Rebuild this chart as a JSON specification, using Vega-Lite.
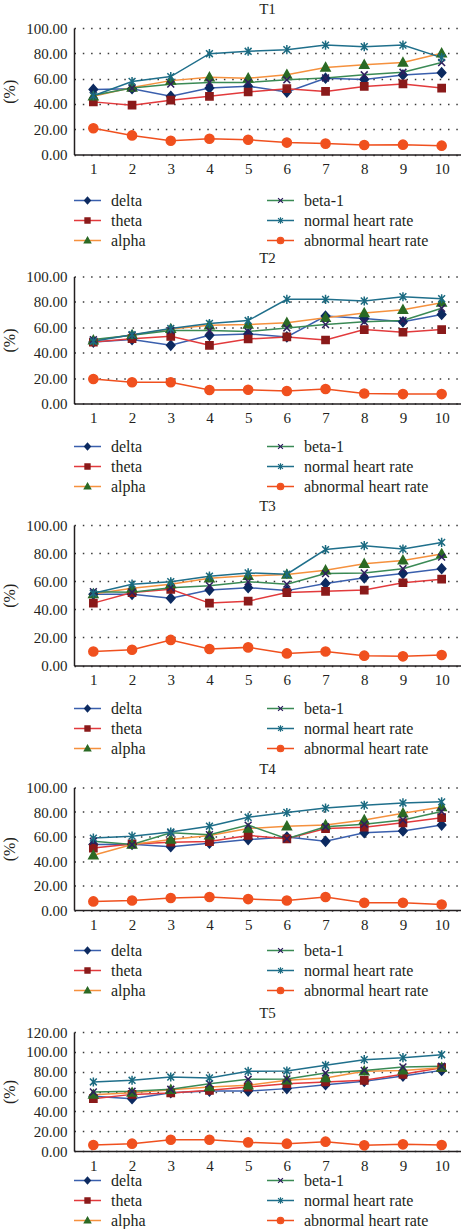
{
  "$schema": "https://vega.github.io/schema/vega-lite/v6.json",
  "background": "white",
  "padding": {"left": 1, "top": 2, "right": 0, "bottom": 0},
  "datasets": {
    "T1": [
      {"x": 1, "delta": 51.4, "theta": 41.6, "alpha": 46.0, "beta-1": 46.8, "normal heart rate": 46.5, "abnormal heart rate": 20.8},
      {"x": 2, "delta": 52.0, "theta": 39.0, "alpha": 53.0, "beta-1": 52.5, "normal heart rate": 57.7, "abnormal heart rate": 15.1},
      {"x": 3, "delta": 46.0, "theta": 42.9, "alpha": 58.4, "beta-1": 55.6, "normal heart rate": 61.6, "abnormal heart rate": 10.9},
      {"x": 4, "delta": 52.5, "theta": 46.0, "alpha": 61.0, "beta-1": 57.0, "normal heart rate": 79.7, "abnormal heart rate": 12.5},
      {"x": 5, "delta": 54.0, "theta": 49.4, "alpha": 60.3, "beta-1": 57.0, "normal heart rate": 81.6, "abnormal heart rate": 11.7},
      {"x": 6, "delta": 49.4, "theta": 52.0, "alpha": 63.1, "beta-1": 59.0, "normal heart rate": 82.9, "abnormal heart rate": 9.4},
      {"x": 7, "delta": 60.3, "theta": 49.9, "alpha": 68.8, "beta-1": 60.5, "normal heart rate": 86.5, "abnormal heart rate": 8.6},
      {"x": 8, "delta": 59.2, "theta": 53.8, "alpha": 70.9, "beta-1": 63.0, "normal heart rate": 85.2, "abnormal heart rate": 7.5},
      {"x": 9, "delta": 62.9, "theta": 55.8, "alpha": 72.7, "beta-1": 65.0, "normal heart rate": 86.5, "abnormal heart rate": 7.8},
      {"x": 10, "delta": 64.7, "theta": 52.5, "alpha": 80.0, "beta-1": 72.7, "normal heart rate": 76.6, "abnormal heart rate": 7.0}
    ],
    "T2": [
      {"x": 1, "delta": 48.4, "theta": 48.4, "alpha": 49.7, "beta-1": 50.3, "normal heart rate": 49.0, "abnormal heart rate": 19.3},
      {"x": 2, "delta": 50.3, "theta": 51.0, "alpha": 54.0, "beta-1": 53.7, "normal heart rate": 54.2, "abnormal heart rate": 16.7},
      {"x": 3, "delta": 45.8, "theta": 52.9, "alpha": 58.7, "beta-1": 57.4, "normal heart rate": 59.0, "abnormal heart rate": 16.7},
      {"x": 4, "delta": 53.7, "theta": 45.8, "alpha": 61.6, "beta-1": 57.4, "normal heart rate": 63.0, "abnormal heart rate": 10.6},
      {"x": 5, "delta": 54.8, "theta": 50.8, "alpha": 62.2, "beta-1": 56.6, "normal heart rate": 65.3, "abnormal heart rate": 10.8},
      {"x": 6, "delta": 52.4, "theta": 52.4, "alpha": 63.5, "beta-1": 59.5, "normal heart rate": 82.0, "abnormal heart rate": 9.8},
      {"x": 7, "delta": 68.8, "theta": 50.0, "alpha": 67.5, "beta-1": 62.2, "normal heart rate": 82.0, "abnormal heart rate": 11.4},
      {"x": 8, "delta": 66.9, "theta": 58.2, "alpha": 71.2, "beta-1": 64.3, "normal heart rate": 80.7, "abnormal heart rate": 7.9},
      {"x": 9, "delta": 64.3, "theta": 56.1, "alpha": 73.8, "beta-1": 65.3, "normal heart rate": 84.1, "abnormal heart rate": 7.4},
      {"x": 10, "delta": 70.1, "theta": 58.2, "alpha": 79.4, "beta-1": 75.0, "normal heart rate": 82.5, "abnormal heart rate": 7.4}
    ],
    "T3": [
      {"x": 1, "delta": 50.7, "theta": 44.4, "alpha": 50.9, "beta-1": 52.5, "normal heart rate": 51.4, "abnormal heart rate": 10.0},
      {"x": 2, "delta": 50.7, "theta": 51.9, "alpha": 54.9, "beta-1": 52.1, "normal heart rate": 57.9, "abnormal heart rate": 11.2},
      {"x": 3, "delta": 47.9, "theta": 54.2, "alpha": 57.9, "beta-1": 55.4, "normal heart rate": 59.6, "abnormal heart rate": 18.2},
      {"x": 4, "delta": 53.7, "theta": 44.4, "alpha": 62.1, "beta-1": 56.8, "normal heart rate": 63.6, "abnormal heart rate": 11.7},
      {"x": 5, "delta": 55.4, "theta": 45.8, "alpha": 63.8, "beta-1": 59.6, "normal heart rate": 65.9, "abnormal heart rate": 12.9},
      {"x": 6, "delta": 53.3, "theta": 51.9, "alpha": 64.7, "beta-1": 57.9, "normal heart rate": 65.0, "abnormal heart rate": 8.6},
      {"x": 7, "delta": 58.4, "theta": 52.8, "alpha": 67.8, "beta-1": 65.4, "normal heart rate": 82.5, "abnormal heart rate": 10.0},
      {"x": 8, "delta": 62.4, "theta": 53.7, "alpha": 72.4, "beta-1": 65.9, "normal heart rate": 85.3, "abnormal heart rate": 7.0},
      {"x": 9, "delta": 65.4, "theta": 58.9, "alpha": 74.8, "beta-1": 68.9, "normal heart rate": 82.9, "abnormal heart rate": 6.5},
      {"x": 10, "delta": 68.9, "theta": 61.4, "alpha": 79.4, "beta-1": 77.1, "normal heart rate": 87.6, "abnormal heart rate": 7.5}
    ],
    "T4": [
      {"x": 1, "delta": 53.4, "theta": 50.6, "alpha": 44.7, "beta-1": 56.1, "normal heart rate": 58.7, "abnormal heart rate": 7.0},
      {"x": 2, "delta": 53.6, "theta": 53.9, "alpha": 53.4, "beta-1": 53.4, "normal heart rate": 60.3, "abnormal heart rate": 7.8},
      {"x": 3, "delta": 51.7, "theta": 55.3, "alpha": 57.5, "beta-1": 63.1, "normal heart rate": 63.7, "abnormal heart rate": 9.8},
      {"x": 4, "delta": 54.5, "theta": 55.9, "alpha": 60.9, "beta-1": 61.5, "normal heart rate": 68.4, "abnormal heart rate": 10.6},
      {"x": 5, "delta": 57.5, "theta": 60.9, "alpha": 66.5, "beta-1": 69.3, "normal heart rate": 75.7, "abnormal heart rate": 8.9},
      {"x": 6, "delta": 59.5, "theta": 58.1, "alpha": 68.4, "beta-1": 58.1, "normal heart rate": 79.6, "abnormal heart rate": 7.8},
      {"x": 7, "delta": 56.1, "theta": 66.5, "alpha": 69.3, "beta-1": 67.9, "normal heart rate": 83.2, "abnormal heart rate": 10.6},
      {"x": 8, "delta": 63.1, "theta": 67.6, "alpha": 73.5, "beta-1": 70.1, "normal heart rate": 85.5, "abnormal heart rate": 5.9},
      {"x": 9, "delta": 64.5, "theta": 71.2, "alpha": 79.0, "beta-1": 73.5, "normal heart rate": 87.4, "abnormal heart rate": 5.9},
      {"x": 10, "delta": 69.3, "theta": 75.4, "alpha": 84.1, "beta-1": 80.4, "normal heart rate": 88.3, "abnormal heart rate": 4.5}
    ],
    "T5": [
      {"x": 1, "delta": 55.1, "theta": 52.8, "alpha": 56.8, "beta-1": 59.5, "normal heart rate": 69.6, "abnormal heart rate": 6.1},
      {"x": 2, "delta": 52.8, "theta": 57.1, "alpha": 58.8, "beta-1": 60.2, "normal heart rate": 71.3, "abnormal heart rate": 7.4},
      {"x": 3, "delta": 58.8, "theta": 58.5, "alpha": 61.8, "beta-1": 62.2, "normal heart rate": 74.6, "abnormal heart rate": 11.4},
      {"x": 4, "delta": 60.5, "theta": 61.2, "alpha": 64.5, "beta-1": 67.9, "normal heart rate": 73.6, "abnormal heart rate": 11.4},
      {"x": 5, "delta": 60.5, "theta": 64.5, "alpha": 66.2, "beta-1": 72.3, "normal heart rate": 80.3, "abnormal heart rate": 8.7},
      {"x": 6, "delta": 62.9, "theta": 67.9, "alpha": 71.3, "beta-1": 72.6, "normal heart rate": 80.7, "abnormal heart rate": 7.4},
      {"x": 7, "delta": 66.9, "theta": 69.6, "alpha": 73.6, "beta-1": 78.7, "normal heart rate": 86.4, "abnormal heart rate": 9.4},
      {"x": 8, "delta": 70.3, "theta": 71.3, "alpha": 80.3, "beta-1": 81.3, "normal heart rate": 92.1, "abnormal heart rate": 5.7},
      {"x": 9, "delta": 75.6, "theta": 77.3, "alpha": 81.3, "beta-1": 84.7, "normal heart rate": 94.1, "abnormal heart rate": 6.7},
      {"x": 10, "delta": 81.3, "theta": 84.0, "alpha": 84.0, "beta-1": 85.4, "normal heart rate": 97.1, "abnormal heart rate": 6.1}
    ]
  },
  "bounds": "flush",
  "spacing": 121.5,
  "resolve": {
    "scale": {"stroke": "independent", "shape": "independent", "fill": "independent", "color": "independent"},
    "legend": {"stroke": "independent", "shape": "independent", "fill": "independent", "color": "independent"}
  },
  "vconcat": [
    {
      "width": 387, "height": 126.5,
      "title": "T1",
      "data": {"name": "T1"},
      "transform": [{"fold": ["delta", "theta", "alpha", "beta-1", "normal heart rate", "abnormal heart rate"], "as": ["series", "value"]}],
      "encoding": {
        "x": {"field": "x", "type": "ordinal", "axis": {"title": null}},
        "y": {"field": "value", "type": "quantitative", "scale": {"domain": [0, 100], "nice": false}, "axis": {"title": "(%)", "values": [0, 20, 40, 60, 80, 100]}}
      },
      "layer": [
        {"mark": {"type": "line", "strokeWidth": 1.5}, "encoding": {"stroke": {"field": "series", "type": "nominal", "scale": {"domain": ["delta", "theta", "alpha", "beta-1", "normal heart rate", "abnormal heart rate"], "range": ["#3a5fad", "#e23a3c", "#f5913e", "#3a8a55", "#1f6f8b", "#f0501e"]}, "legend": {"title": null, "legendY": 162.5, "symbolType": "stroke"}}}},
        {"mark": {"type": "point", "filled": false, "size": 1444, "strokeWidth": 1.5, "opacity": 1}, "encoding": {
          "shape": {"field": "series", "type": "nominal", "scale": {"domain": ["abnormal heart rate", "normal heart rate", "beta-1", "alpha", "theta", "delta"], "range": ["M0.24,0A0.24,0.24 0 1,1 -0.24,0A0.24,0.24 0 1,1 0.24,0Z", "M-0.18,-0.18L0.18,0.18M-0.18,0.18L0.18,-0.18M0,-0.24L0,0.24", "M-0.18,-0.18L0.18,0.18M-0.18,0.18L0.18,-0.18", "M0,-0.25L0.24,0.18L-0.24,0.18Z", "M-0.19,-0.19L0.19,-0.19L0.19,0.19L-0.19,0.19Z", "M0,-0.25L0.22,0L0,0.25L-0.22,0Z"]}, "legend": {"title": null, "legendY": 162.5, "labelOpacity": 0, "values": ["delta", "theta", "alpha", "beta-1", "normal heart rate", "abnormal heart rate"], "symbolFillColor": "transparent", "symbolStrokeWidth": 1.2}},
          "fill": {"field": "series", "type": "nominal", "scale": {"domain": ["abnormal heart rate", "normal heart rate", "beta-1", "alpha", "theta", "delta"], "range": ["#f0501e", "#1a6a80", "#2e1f5e", "#2b6a25", "#8a1a1a", "#0c2a60"]}, "legend": {"title": null, "legendY": 162.5, "labelOpacity": 0, "values": ["delta", "theta", "alpha", "beta-1", "normal heart rate", "abnormal heart rate"], "symbolFillColor": "transparent", "symbolStrokeWidth": 1.2}},
          "color": {"field": "series", "type": "nominal", "scale": {"domain": ["abnormal heart rate", "normal heart rate", "beta-1", "alpha", "theta", "delta"], "range": ["#f0501e", "#1a6a80", "#2e1f5e", "#2b6a25", "#8a1a1a", "#0c2a60"]}, "legend": {"title": null, "legendY": 162.5, "labelOpacity": 0, "values": ["delta", "theta", "alpha", "beta-1", "normal heart rate", "abnormal heart rate"], "symbolFillColor": "transparent", "symbolStrokeWidth": 1.2}}
        }}
      ]
    },
    {
      "width": 387, "height": 127,
      "title": "T2",
      "data": {"name": "T2"},
      "transform": [{"fold": ["delta", "theta", "alpha", "beta-1", "normal heart rate", "abnormal heart rate"], "as": ["series", "value"]}],
      "encoding": {
        "x": {"field": "x", "type": "ordinal", "axis": {"title": null}},
        "y": {"field": "value", "type": "quantitative", "scale": {"domain": [0, 100], "nice": false}, "axis": {"title": "(%)", "values": [0, 20, 40, 60, 80, 100]}}
      },
      "layer": [
        {"mark": {"type": "line", "strokeWidth": 1.5}, "encoding": {"stroke": {"field": "series", "type": "nominal", "scale": {"domain": ["delta", "theta", "alpha", "beta-1", "normal heart rate", "abnormal heart rate"], "range": ["#3a5fad", "#e23a3c", "#f5913e", "#3a8a55", "#1f6f8b", "#f0501e"]}, "legend": {"title": null, "legendY": 160, "symbolType": "stroke"}}}},
        {"mark": {"type": "point", "filled": false, "size": 1444, "strokeWidth": 1.5, "opacity": 1}, "encoding": {
          "shape": {"field": "series", "type": "nominal", "scale": {"domain": ["abnormal heart rate", "normal heart rate", "beta-1", "alpha", "theta", "delta"], "range": ["M0.24,0A0.24,0.24 0 1,1 -0.24,0A0.24,0.24 0 1,1 0.24,0Z", "M-0.18,-0.18L0.18,0.18M-0.18,0.18L0.18,-0.18M0,-0.24L0,0.24", "M-0.18,-0.18L0.18,0.18M-0.18,0.18L0.18,-0.18", "M0,-0.25L0.24,0.18L-0.24,0.18Z", "M-0.19,-0.19L0.19,-0.19L0.19,0.19L-0.19,0.19Z", "M0,-0.25L0.22,0L0,0.25L-0.22,0Z"]}, "legend": {"title": null, "legendY": 160, "labelOpacity": 0, "values": ["delta", "theta", "alpha", "beta-1", "normal heart rate", "abnormal heart rate"], "symbolFillColor": "transparent", "symbolStrokeWidth": 1.2}},
          "fill": {"field": "series", "type": "nominal", "scale": {"domain": ["abnormal heart rate", "normal heart rate", "beta-1", "alpha", "theta", "delta"], "range": ["#f0501e", "#1a6a80", "#2e1f5e", "#2b6a25", "#8a1a1a", "#0c2a60"]}, "legend": {"title": null, "legendY": 160, "labelOpacity": 0, "values": ["delta", "theta", "alpha", "beta-1", "normal heart rate", "abnormal heart rate"], "symbolFillColor": "transparent", "symbolStrokeWidth": 1.2}},
          "color": {"field": "series", "type": "nominal", "scale": {"domain": ["abnormal heart rate", "normal heart rate", "beta-1", "alpha", "theta", "delta"], "range": ["#f0501e", "#1a6a80", "#2e1f5e", "#2b6a25", "#8a1a1a", "#0c2a60"]}, "legend": {"title": null, "legendY": 160, "labelOpacity": 0, "values": ["delta", "theta", "alpha", "beta-1", "normal heart rate", "abnormal heart rate"], "symbolFillColor": "transparent", "symbolStrokeWidth": 1.2}}
        }}
      ]
    },
    {
      "width": 387, "height": 140.5,
      "title": "T3",
      "data": {"name": "T3"},
      "transform": [{"fold": ["delta", "theta", "alpha", "beta-1", "normal heart rate", "abnormal heart rate"], "as": ["series", "value"]}],
      "encoding": {
        "x": {"field": "x", "type": "ordinal", "axis": {"title": null}},
        "y": {"field": "value", "type": "quantitative", "scale": {"domain": [0, 100], "nice": false}, "axis": {"title": "(%)", "values": [0, 20, 40, 60, 80, 100]}}
      },
      "layer": [
        {"mark": {"type": "line", "strokeWidth": 1.5}, "encoding": {"stroke": {"field": "series", "type": "nominal", "scale": {"domain": ["delta", "theta", "alpha", "beta-1", "normal heart rate", "abnormal heart rate"], "range": ["#3a5fad", "#e23a3c", "#f5913e", "#3a8a55", "#1f6f8b", "#f0501e"]}, "legend": {"title": null, "legendY": 173.5, "symbolType": "stroke"}}}},
        {"mark": {"type": "point", "filled": false, "size": 1444, "strokeWidth": 1.5, "opacity": 1}, "encoding": {
          "shape": {"field": "series", "type": "nominal", "scale": {"domain": ["abnormal heart rate", "normal heart rate", "beta-1", "alpha", "theta", "delta"], "range": ["M0.24,0A0.24,0.24 0 1,1 -0.24,0A0.24,0.24 0 1,1 0.24,0Z", "M-0.18,-0.18L0.18,0.18M-0.18,0.18L0.18,-0.18M0,-0.24L0,0.24", "M-0.18,-0.18L0.18,0.18M-0.18,0.18L0.18,-0.18", "M0,-0.25L0.24,0.18L-0.24,0.18Z", "M-0.19,-0.19L0.19,-0.19L0.19,0.19L-0.19,0.19Z", "M0,-0.25L0.22,0L0,0.25L-0.22,0Z"]}, "legend": {"title": null, "legendY": 173.5, "labelOpacity": 0, "values": ["delta", "theta", "alpha", "beta-1", "normal heart rate", "abnormal heart rate"], "symbolFillColor": "transparent", "symbolStrokeWidth": 1.2}},
          "fill": {"field": "series", "type": "nominal", "scale": {"domain": ["abnormal heart rate", "normal heart rate", "beta-1", "alpha", "theta", "delta"], "range": ["#f0501e", "#1a6a80", "#2e1f5e", "#2b6a25", "#8a1a1a", "#0c2a60"]}, "legend": {"title": null, "legendY": 173.5, "labelOpacity": 0, "values": ["delta", "theta", "alpha", "beta-1", "normal heart rate", "abnormal heart rate"], "symbolFillColor": "transparent", "symbolStrokeWidth": 1.2}},
          "color": {"field": "series", "type": "nominal", "scale": {"domain": ["abnormal heart rate", "normal heart rate", "beta-1", "alpha", "theta", "delta"], "range": ["#f0501e", "#1a6a80", "#2e1f5e", "#2b6a25", "#8a1a1a", "#0c2a60"]}, "legend": {"title": null, "legendY": 173.5, "labelOpacity": 0, "values": ["delta", "theta", "alpha", "beta-1", "normal heart rate", "abnormal heart rate"], "symbolFillColor": "transparent", "symbolStrokeWidth": 1.2}}
        }}
      ]
    },
    {
      "width": 387, "height": 122.5,
      "title": "T4",
      "data": {"name": "T4"},
      "transform": [{"fold": ["delta", "theta", "alpha", "beta-1", "normal heart rate", "abnormal heart rate"], "as": ["series", "value"]}],
      "encoding": {
        "x": {"field": "x", "type": "ordinal", "axis": {"title": null}},
        "y": {"field": "value", "type": "quantitative", "scale": {"domain": [0, 100], "nice": false}, "axis": {"title": "(%)", "values": [0, 20, 40, 60, 80, 100]}}
      },
      "layer": [
        {"mark": {"type": "line", "strokeWidth": 1.5}, "encoding": {"stroke": {"field": "series", "type": "nominal", "scale": {"domain": ["delta", "theta", "alpha", "beta-1", "normal heart rate", "abnormal heart rate"], "range": ["#3a5fad", "#e23a3c", "#f5913e", "#3a8a55", "#1f6f8b", "#f0501e"]}, "legend": {"title": null, "legendY": 153, "symbolType": "stroke"}}}},
        {"mark": {"type": "point", "filled": false, "size": 1444, "strokeWidth": 1.5, "opacity": 1}, "encoding": {
          "shape": {"field": "series", "type": "nominal", "scale": {"domain": ["abnormal heart rate", "normal heart rate", "beta-1", "alpha", "theta", "delta"], "range": ["M0.24,0A0.24,0.24 0 1,1 -0.24,0A0.24,0.24 0 1,1 0.24,0Z", "M-0.18,-0.18L0.18,0.18M-0.18,0.18L0.18,-0.18M0,-0.24L0,0.24", "M-0.18,-0.18L0.18,0.18M-0.18,0.18L0.18,-0.18", "M0,-0.25L0.24,0.18L-0.24,0.18Z", "M-0.19,-0.19L0.19,-0.19L0.19,0.19L-0.19,0.19Z", "M0,-0.25L0.22,0L0,0.25L-0.22,0Z"]}, "legend": {"title": null, "legendY": 153, "labelOpacity": 0, "values": ["delta", "theta", "alpha", "beta-1", "normal heart rate", "abnormal heart rate"], "symbolFillColor": "transparent", "symbolStrokeWidth": 1.2}},
          "fill": {"field": "series", "type": "nominal", "scale": {"domain": ["abnormal heart rate", "normal heart rate", "beta-1", "alpha", "theta", "delta"], "range": ["#f0501e", "#1a6a80", "#2e1f5e", "#2b6a25", "#8a1a1a", "#0c2a60"]}, "legend": {"title": null, "legendY": 153, "labelOpacity": 0, "values": ["delta", "theta", "alpha", "beta-1", "normal heart rate", "abnormal heart rate"], "symbolFillColor": "transparent", "symbolStrokeWidth": 1.2}},
          "color": {"field": "series", "type": "nominal", "scale": {"domain": ["abnormal heart rate", "normal heart rate", "beta-1", "alpha", "theta", "delta"], "range": ["#f0501e", "#1a6a80", "#2e1f5e", "#2b6a25", "#8a1a1a", "#0c2a60"]}, "legend": {"title": null, "legendY": 153, "labelOpacity": 0, "values": ["delta", "theta", "alpha", "beta-1", "normal heart rate", "abnormal heart rate"], "symbolFillColor": "transparent", "symbolStrokeWidth": 1.2}}
        }}
      ]
    },
    {
      "width": 387, "height": 119,
      "title": "T5",
      "data": {"name": "T5"},
      "transform": [{"fold": ["delta", "theta", "alpha", "beta-1", "normal heart rate", "abnormal heart rate"], "as": ["series", "value"]}],
      "encoding": {
        "x": {"field": "x", "type": "ordinal", "axis": {"title": null}},
        "y": {"field": "value", "type": "quantitative", "scale": {"domain": [0, 120], "nice": false}, "axis": {"title": "(%)", "values": [0, 20, 40, 60, 80, 100, 120]}}
      },
      "layer": [
        {"mark": {"type": "line", "strokeWidth": 1.5}, "encoding": {"stroke": {"field": "series", "type": "nominal", "scale": {"domain": ["delta", "theta", "alpha", "beta-1", "normal heart rate", "abnormal heart rate"], "range": ["#3a5fad", "#e23a3c", "#f5913e", "#3a8a55", "#1f6f8b", "#f0501e"]}, "legend": {"title": null, "legendY": 138.5, "symbolType": "stroke"}}}},
        {"mark": {"type": "point", "filled": false, "size": 1444, "strokeWidth": 1.5, "opacity": 1}, "encoding": {
          "shape": {"field": "series", "type": "nominal", "scale": {"domain": ["abnormal heart rate", "normal heart rate", "beta-1", "alpha", "theta", "delta"], "range": ["M0.24,0A0.24,0.24 0 1,1 -0.24,0A0.24,0.24 0 1,1 0.24,0Z", "M-0.18,-0.18L0.18,0.18M-0.18,0.18L0.18,-0.18M0,-0.24L0,0.24", "M-0.18,-0.18L0.18,0.18M-0.18,0.18L0.18,-0.18", "M0,-0.25L0.24,0.18L-0.24,0.18Z", "M-0.19,-0.19L0.19,-0.19L0.19,0.19L-0.19,0.19Z", "M0,-0.25L0.22,0L0,0.25L-0.22,0Z"]}, "legend": {"title": null, "legendY": 138.5, "labelOpacity": 0, "values": ["delta", "theta", "alpha", "beta-1", "normal heart rate", "abnormal heart rate"], "symbolFillColor": "transparent", "symbolStrokeWidth": 1.2}},
          "fill": {"field": "series", "type": "nominal", "scale": {"domain": ["abnormal heart rate", "normal heart rate", "beta-1", "alpha", "theta", "delta"], "range": ["#f0501e", "#1a6a80", "#2e1f5e", "#2b6a25", "#8a1a1a", "#0c2a60"]}, "legend": {"title": null, "legendY": 138.5, "labelOpacity": 0, "values": ["delta", "theta", "alpha", "beta-1", "normal heart rate", "abnormal heart rate"], "symbolFillColor": "transparent", "symbolStrokeWidth": 1.2}},
          "color": {"field": "series", "type": "nominal", "scale": {"domain": ["abnormal heart rate", "normal heart rate", "beta-1", "alpha", "theta", "delta"], "range": ["#f0501e", "#1a6a80", "#2e1f5e", "#2b6a25", "#8a1a1a", "#0c2a60"]}, "legend": {"title": null, "legendY": 138.5, "labelOpacity": 0, "values": ["delta", "theta", "alpha", "beta-1", "normal heart rate", "abnormal heart rate"], "symbolFillColor": "transparent", "symbolStrokeWidth": 1.2}}
        }}
      ]
    }
  ],
  "config": {
    "font": "Liberation Serif",
    "view": {"stroke": null},
    "axis": {"labelFont": "Liberation Serif", "labelFontSize": 15, "labelColor": "#231f20", "titleFont": "Liberation Serif", "titleFontSize": 16, "titleFontWeight": "normal", "titleColor": "#231f20", "domainColor": "#231f20", "domainWidth": 1.5, "ticks": false, "tickSize": 0},
    "axisX": {"grid": false, "labelAngle": 0, "labelPadding": 7},
    "axisY": {"grid": true, "gridColor": "#3a3a3a", "gridWidth": 1.5, "gridDash": [1.5, 6.8], "labelPadding": 7, "titlePadding": 8, "format": ".2f"},
    "legend": {"labelFont": "Liberation Serif", "labelFontSize": 16, "labelColor": "#231f20", "orient": "none", "legendX": -1, "columns": 2, "columnPadding": 120, "rowPadding": 0, "clipHeight": 20, "padding": 0, "symbolSize": 729, "symbolStrokeWidth": 1.5, "labelOffset": 9},
    "title": {"font": "Liberation Serif", "fontSize": 15, "fontWeight": "normal", "color": "#231f20", "offset": 0, "anchor": "middle"}
  }
}
